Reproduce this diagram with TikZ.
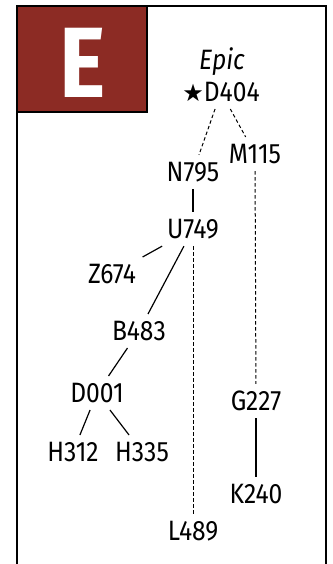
\documentclass[tikz,border=0pt]{standalone}
\usepackage{fontspec}
\setmainfont[FakeStretch=0.88]{Fira Sans}
\newfontfamily\symfont{DejaVu Sans}
\definecolor{Brick}{HTML}{8C2B24}

\begin{document}
\begin{tikzpicture}[x=1pt, y=-1pt,
    tag/.style={font=\fontsize{28}{28}\selectfont, inner sep=7pt},
    link/.style={line width=1.2pt},
    weak/.style={line width=1pt, dash pattern=on 3.5pt off 2.5pt}]
  \useasboundingbox (0,0) rectangle (332,564);
  \draw[line width=2.4pt] (17,570) -- (17,6) -- (326,6) -- (326,570);
  \draw[line width=2.4pt, fill=Brick] (17,6) rectangle (147,112);
  \node[text=white, inner sep=0pt, font=\fontsize{100}{100}\selectfont\bfseries]
    (badge) at (83,63) {E};
  \node[font=\fontsize{28}{28}\selectfont\itshape, inner sep=0pt] (epic) at (222,62) {Epic};
  \node[tag] (d404) at (221,92) {{\symfont\fontsize{24}{24}\selectfont ★}D404};
  \node[tag] (n795) at (193,172) {N795};
  \node[tag] (m115) at (255,154) {M115};
  \node[tag] (u749) at (193,229) {U749};
  \node[tag] (z674) at (112,274) {Z674};
  \node[tag] (b483) at (139,331) {B483};
  \node[tag] (d001) at (97,393)  {D001};
  \node[tag] (h312) at (73,452)  {H312};
  \node[tag] (h335) at (142,452) {H335};
  \node[tag] (g227) at (256,401) {G227};
  \node[tag] (k240) at (256,494) {K240};
  \node[tag] (l489) at (193,531) {L489};
  \draw[weak] (d404)--(n795); \draw[weak] (d404)--(m115);
  \draw[link] (n795)--(u749);
  \draw[link] (u749)--(z674); \draw[link] (u749)--(b483);
  \draw[weak] (u749)--(l489);
  \draw[link] (b483)--(d001);
  \draw[link] (d001)--(h312); \draw[link] (d001)--(h335);
  \draw[weak] (m115)--(g227);
  \draw[link] (g227)--(k240);
\end{tikzpicture}
\end{document}
